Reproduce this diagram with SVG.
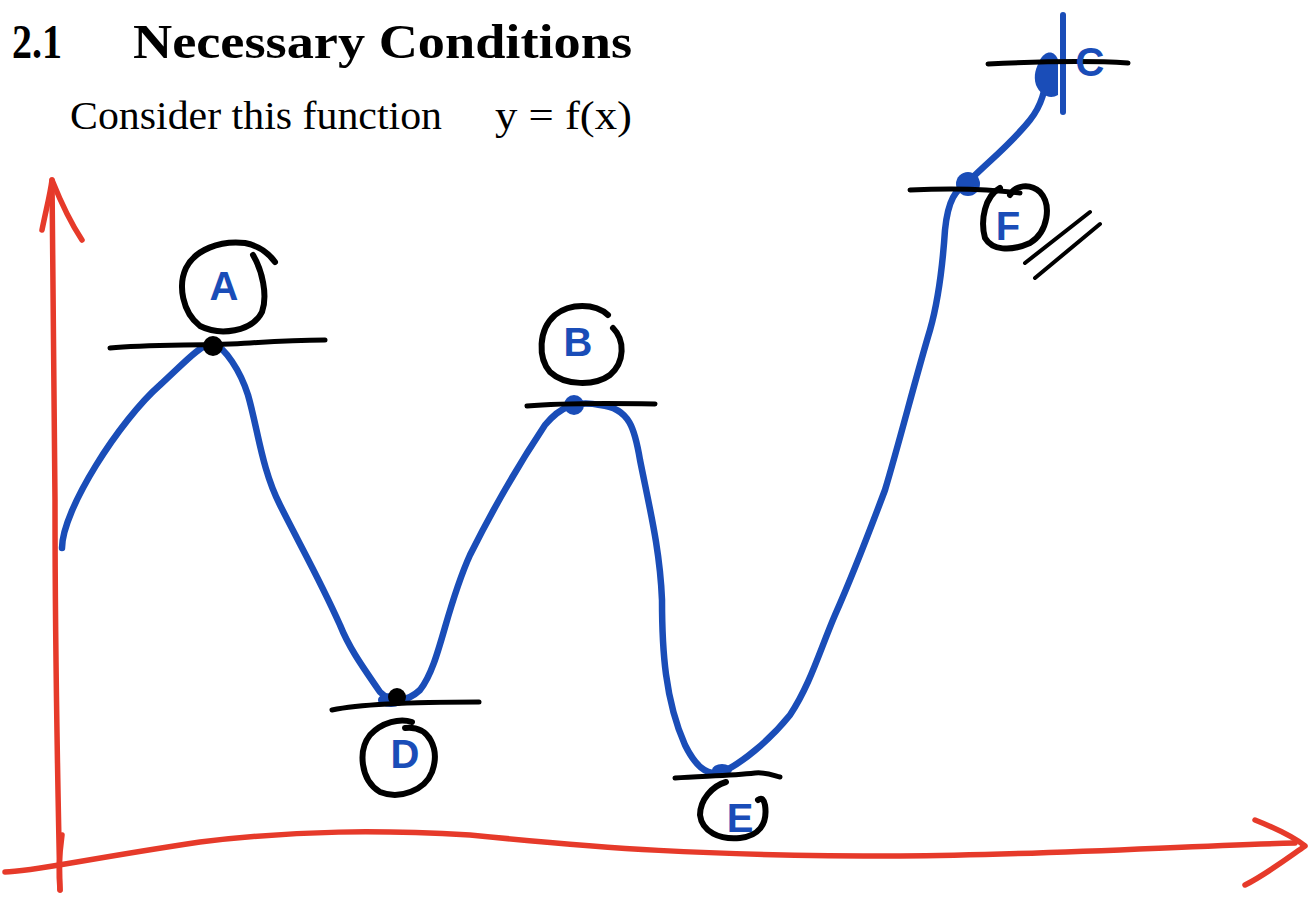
<svg xmlns="http://www.w3.org/2000/svg" width="1315" height="897" viewBox="0 0 1315 897">
<style>
.axis{fill:none;stroke:#e63a2a;stroke-width:5.5;stroke-linecap:round;stroke-linejoin:round}
.curve{fill:none;stroke:#1a4db8;stroke-width:6.5;stroke-linecap:round;stroke-linejoin:round}
.ink{fill:none;stroke:#000;stroke-width:6;stroke-linecap:round;stroke-linejoin:round}
.tan{fill:none;stroke:#000;stroke-width:5;stroke-linecap:round}
.lbl{font-family:"Liberation Sans",sans-serif;font-size:40px;font-weight:bold;fill:#1a4db8;text-anchor:middle}
.title{font-family:"Liberation Serif",serif;font-weight:bold;font-size:48px;fill:#000}
.body{font-family:"Liberation Serif",serif;font-size:41px;fill:#000}
</style>
<rect width="1315" height="897" fill="#fff"/>
<g id="heading">
<text class="title" x="12" y="58" textLength="50" lengthAdjust="spacingAndGlyphs">2.1</text>
<text class="title" x="133" y="58" textLength="499" lengthAdjust="spacingAndGlyphs">Necessary Conditions</text>
<text class="body" x="70" y="129" textLength="372" lengthAdjust="spacingAndGlyphs">Consider this function</text>
<text class="body" x="495" y="129" textLength="137" lengthAdjust="spacingAndGlyphs">y = f(x)</text>
</g>
<g id="axes">
<path class="axis" d="M60,890 C58,800 55,650 55,500 C54,380 53,260 52,180"/>
<path class="axis" d="M42,230 C46,210 50,195 52,180 C60,200 70,222 82,240"/>
<path class="axis" d="M60,890 C58,870 60,850 62,835"/>
<path class="axis" d="M5,872 C30,872 80,860 200,842 C300,830 380,830 470,835 C600,848 700,856 900,856 C1050,855 1180,846 1295,843"/>
<path class="axis" d="M1255,820 C1275,828 1295,838 1305,846 C1285,860 1265,875 1245,885"/>
</g>
<g id="function-curve">
<path class="curve" d="M62,548 C62,510 120,420 160,385 C185,362 200,345 213,343 C225,348 240,370 248,395 C258,430 262,470 280,505 C300,545 320,580 340,625 C350,650 365,670 380,692 C390,702 405,704 420,690 C440,665 445,610 470,555 C495,505 525,455 545,425 C560,407 575,400 600,405 C630,408 635,430 640,460 C650,510 660,550 662,600 C662,650 665,700 685,745 C695,765 705,775 720,773 C740,765 770,740 790,715 C810,685 820,650 835,615 C855,570 870,530 885,490 C900,440 915,380 930,330 C940,295 943,260 945,230 C948,200 955,190 970,180 C990,160 1010,145 1030,120 C1042,105 1045,90 1048,70"/>
</g>
<g id="point-A">
<circle cx="213" cy="346" r="10" fill="#000"/>
<path class="tan" d="M110,348 C150,344 200,346 250,343 C280,341 305,340 325,340"/>
<path class="ink" d="M253,255 C262,270 268,295 262,312 C252,332 220,336 200,326 C182,312 178,285 186,268 C195,250 220,240 245,243 C260,246 270,255 275,262"/>
<text class="lbl" x="224" y="300">A</text>
</g>
<g id="point-B">
<circle cx="574" cy="405" r="10" fill="#1a4db8"/>
<path class="tan" d="M527,406 C560,403 600,403 655,404"/>
<path class="ink" d="M613,328 C625,340 625,362 610,375 C595,386 565,386 550,372 C538,358 538,330 555,315 C570,303 595,303 608,315"/>
<text class="lbl" x="578" y="356">B</text>
</g>
<g id="point-D">
<ellipse cx="391" cy="700" rx="13" ry="7" fill="#1a4db8"/>
<circle cx="397" cy="697" r="9" fill="#000"/>
<path class="tan" d="M332,710 C360,704 420,702 479,702"/>
<path class="ink" d="M405,728 C430,725 440,750 432,772 C425,790 400,800 380,792 C360,780 358,750 370,735 C382,722 400,718 412,722"/>
<text class="lbl" x="405" y="768">D</text>
</g>
<g id="point-E">
<ellipse cx="722" cy="770" rx="10" ry="6" fill="#1a4db8"/>
<path class="tan" d="M675,778 C700,776 730,776 755,773 C768,772 775,776 780,777"/>
<path class="ink" d="M726,782 C712,786 700,800 700,815 C702,832 720,840 740,838 C758,836 768,825 765,805 C764,800 762,797 758,800"/>
<text class="lbl" x="740" y="832">E</text>
</g>
<g id="point-F">
<circle cx="968" cy="184" r="12" fill="#1a4db8"/>
<path class="tan" d="M910,190 C950,188 990,189 1020,193"/>
<path class="ink" d="M1000,188 C985,196 980,220 985,238 C992,250 1010,252 1030,243 C1048,232 1052,205 1040,192 C1030,183 1015,185 1010,195"/>
<text class="lbl" x="1008" y="240">F</text>
<path class="ink" d="M1025,263 L1090,212 M1035,278 L1100,224" style="stroke-width:4"/>
</g>
<g id="point-C">
<path class="curve" d="M1063,15 L1063,112" style="stroke-width:6"/>
<path d="M1040,60 C1045,50 1055,50 1058,60 L1058,95 C1050,100 1040,95 1036,85 C1033,75 1036,68 1040,60 Z" fill="#1a4db8"/>
<path class="tan" d="M988,64 C1030,62 1080,60 1128,63"/>
<text class="lbl" x="1090" y="76">C</text>
</g>
</svg>
